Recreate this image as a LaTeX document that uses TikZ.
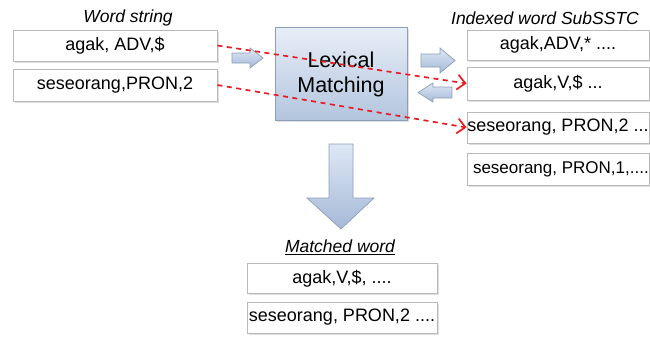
\documentclass[tikz,border=0pt]{standalone}
\usepackage{fontspec}
\setmainfont{Liberation Sans}
\usetikzlibrary{arrows.meta,shadows}
\definecolor{boxline}{RGB}{185,185,185}
\definecolor{arrline}{RGB}{140,158,185}
\definecolor{arrtop}{RGB}{222,232,245}
\definecolor{arrbot}{RGB}{165,185,215}
\definecolor{lextop}{RGB}{232,238,247}
\definecolor{lexbot}{RGB}{178,197,222}
\definecolor{dashred}{RGB}{232,28,36}
\tikzset{
  wbox/.style={draw=boxline, fill=white, line width=0.9pt, inner sep=0pt,
    font=\fontsize{18}{20}\selectfont,
    drop shadow={shadow xshift=1.5pt, shadow yshift=-1.5pt, opacity=0.25}},
  lbl/.style={font=\fontsize{17.5}{20}\selectfont\itshape, inner sep=0pt},
  blockarrow/.style={draw=arrline, line width=0.7pt, top color=arrtop, bottom color=arrbot},
  reddash/.style={draw=dashred, line width=1.7pt, dash pattern=on 5pt off 4.5pt,
    -{Straight Barb[length=8pt,width=15pt,line width=1.7pt]}}
}
\begin{document}
\begin{tikzpicture}[x=1pt,y=-1pt]
\useasboundingbox (0,0) rectangle (650,343);
% labels
\node[lbl] (lw) at (128,18) {Word string};
\node[lbl] (li) at (545,18) {Indexed word SubSSTC};
\node[lbl] (lm) at (340,247) {\underline{Matched word}};
% left boxes
\node[wbox, minimum width=204pt, minimum height=31pt] (w1) at (115,45.5) {agak, ADV,\$};
\node[wbox, minimum width=204pt, minimum height=32pt] (w2) at (115,85) {seseorang,PRON,2};
% lexical matching
\node[draw=arrline, line width=0.8pt, top color=lextop, bottom color=lexbot,
  minimum width=132pt, minimum height=93pt, align=center,
  font=\fontsize{21.5}{25}\selectfont,
  drop shadow={shadow xshift=1.5pt, shadow yshift=-1.5pt, opacity=0.25}] (lex) at (341,74) {Lexical\\Matching};
% right boxes
\node[wbox, minimum width=182pt, minimum height=30pt] (i1) at (558,45) {agak,ADV,* ....};
\node[wbox, minimum width=182pt, minimum height=33pt] (i2) at (558,83.5) {agak,V,\$ ...};
\node[wbox, minimum width=182pt, minimum height=31pt] (i3) at (558,127.5) {seseorang, PRON,2 ...};
\node[wbox, minimum width=182pt, minimum height=32pt, font=\fontsize{17}{20}\selectfont] (i4) at (558,169) {\makebox[170pt][l]{seseorang, PRON,1,....}};
% matched boxes
\node[wbox, minimum width=190pt, minimum height=30pt] (m1) at (342,278.5) {agak,V,\$, ....};
\node[wbox, minimum width=190pt, minimum height=31pt] (m2) at (342,317.5) {seseorang, PRON,2 ....};
% block arrows
\shade[blockarrow] (232,53) -- (250,53) -- (250,48) -- (263,58) -- (250,68) -- (250,63) -- (232,63) -- cycle;
\shade[blockarrow] (421,54) -- (440,54) -- (440,48) -- (455,60.5) -- (440,73) -- (440,67) -- (421,67) -- cycle;
\shade[blockarrow] (452,87) -- (433,87) -- (433,83) -- (418,92.5) -- (433,102) -- (433,98) -- (452,98) -- cycle;
\shade[blockarrow] (329,144) -- (353,144) -- (353,198) -- (374,198) -- (341,229) -- (307,198) -- (329,198) -- cycle;
% red dashed connectors
\draw[reddash] (w1.east) -- (i2.west);
\draw[reddash] (w2.east) -- (i3.west);
\end{tikzpicture}
\end{document}
